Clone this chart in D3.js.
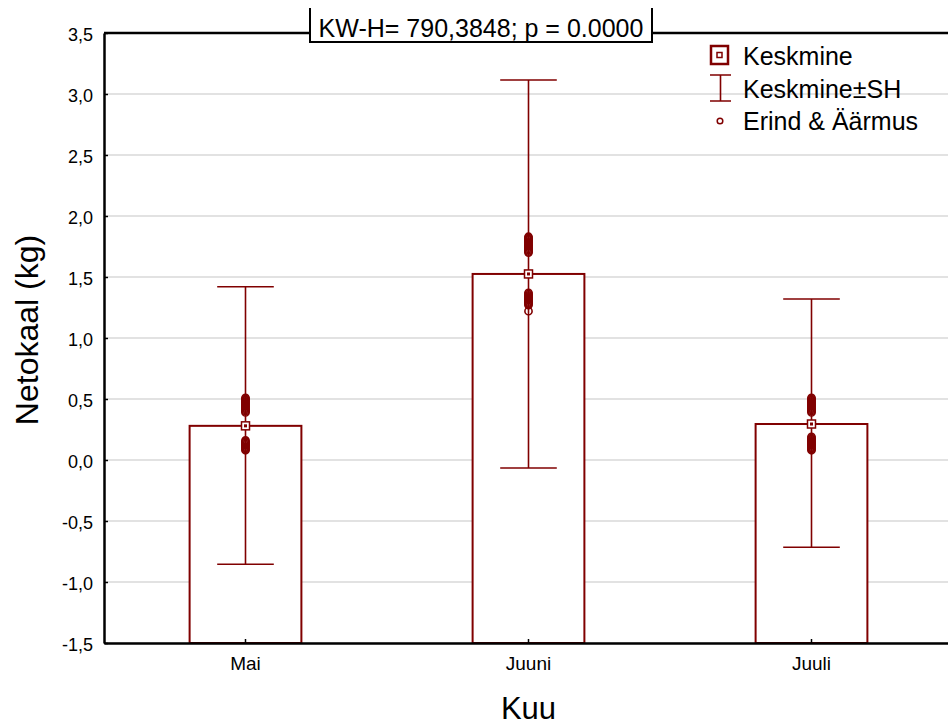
<!DOCTYPE html>
<html>
<head>
<meta charset="utf-8">
<script src="https://cdn.jsdelivr.net/npm/d3@7"></script>
<style>
  body { margin: 0; background: #fff; }
  text { font-family: "Liberation Sans", Arial, sans-serif; fill: #000; }
</style>
</head>
<body>
<div id="chart"></div>
<script>
// data
const months = ["Mai", "Juuni", "Juuli"];
const means = [0.28, 1.525, 0.295];
const upperSH = [1.42, 3.115, 1.32];
const lowerSH = [-0.855, -0.065, -0.715];
const maiOutliers = [0.39, 0.40, 0.41, 0.42, 0.43, 0.44, 0.45, 0.46, 0.47, 0.48, 0.49, 0.50, 0.51,
  0.08, 0.09, 0.10, 0.11, 0.12, 0.13, 0.14, 0.15, 0.16];
const juuniOutliers = [1.70, 1.71, 1.72, 1.73, 1.74, 1.75, 1.76, 1.77, 1.78, 1.79, 1.80, 1.81, 1.82, 1.83,
  1.27, 1.28, 1.29, 1.30, 1.31, 1.32, 1.33, 1.34, 1.35, 1.36, 1.37, 1.22];
const juuliOutliers = [0.39, 0.40, 0.41, 0.42, 0.43, 0.44, 0.45, 0.46, 0.47, 0.48, 0.49, 0.50, 0.51,
  0.08, 0.09, 0.10, 0.11, 0.12, 0.13, 0.14, 0.15, 0.16, 0.17, 0.18, 0.19];
const outliers = [maiOutliers, juuniOutliers, juuliOutliers];
const yTicks = [-1.5, -1.0, -0.5, 0.0, 0.5, 1.0, 1.5, 2.0, 2.5, 3.0, 3.5];
const titleText = "KW-H= 790,3848; p = 0.0000";
const legendItems = ["Keskmine", "Keskmine±SH", "Erind & Äärmus"];

const red = "#800000";
const width = 948;
const height = 727;
const margin = { top: 33, left: 104 };
const plotRight = 953; // frame runs past the right edge of the picture
const plotBottom = 643;

const svg = d3.select("#chart").append("svg")
  .attr("width", width)
  .attr("height", height);

const x = d3.scaleBand().domain(months).range([margin.left, plotRight]).padding(0);
const y = d3.scaleLinear().domain([-1.5, 3.5]).range([plotBottom, margin.top]);

const locale = d3.formatLocale({ decimal: ",", thousands: " ", grouping: [3], currency: ["", ""], minus: "-" });
const fmt = locale.format(".1f");

// gridlines
svg.append("g")
  .selectAll("line")
  .data(yTicks)
  .join("line")
  .attr("x1", margin.left)
  .attr("x2", plotRight)
  .attr("y1", d => y(d))
  .attr("y2", d => y(d))
  .attr("stroke", "#d9d9d9")
  .attr("stroke-width", 1.5);

const data = months.map((m, i) => ({
  month: m, mean: means[i], hi: upperSH[i], lo: lowerSH[i], out: outliers[i]
}));

const barW = x.bandwidth() * 0.395;
const capW = x.bandwidth() * 0.1;
const cx = d => x(d.month) + x.bandwidth() / 2;

// bars
svg.append("g")
  .selectAll("rect")
  .data(data)
  .join("rect")
  .attr("x", d => cx(d) - barW / 2)
  .attr("width", barW)
  .attr("y", d => y(d.mean))
  .attr("height", d => y(-1.5) - y(d.mean))
  .attr("fill", "#fff")
  .attr("stroke", red)
  .attr("stroke-width", 2);

// error bars
const eb = svg.append("g").attr("stroke", red).attr("stroke-width", 1.6);
eb.selectAll(".v").data(data).join("line")
  .attr("x1", cx).attr("x2", cx)
  .attr("y1", d => y(d.hi)).attr("y2", d => y(d.lo));
eb.selectAll(".capHi").data(data).join("line")
  .attr("x1", d => cx(d) - capW).attr("x2", d => cx(d) + capW)
  .attr("y1", d => y(d.hi)).attr("y2", d => y(d.hi));
eb.selectAll(".capLo").data(data).join("line")
  .attr("x1", d => cx(d) - capW).attr("x2", d => cx(d) + capW)
  .attr("y1", d => y(d.lo)).attr("y2", d => y(d.lo));

// outliers & extremes
data.forEach(d => {
  svg.append("g")
    .selectAll("circle")
    .data(d.out)
    .join("circle")
    .attr("cx", cx(d))
    .attr("cy", v => y(v))
    .attr("r", 3.6)
    .attr("fill", "none")
    .attr("stroke", red)
    .attr("stroke-width", 1.6);
});

// mean markers
const mm = svg.append("g");
mm.selectAll("rect.o").data(data).join("rect")
  .attr("x", d => cx(d) - 4).attr("y", d => y(d.mean) - 4)
  .attr("width", 8).attr("height", 8)
  .attr("fill", "#fff").attr("stroke", red).attr("stroke-width", 1.5);
mm.selectAll("rect.i").data(data).join("rect")
  .attr("x", d => cx(d) - 1).attr("y", d => y(d.mean) - 1)
  .attr("width", 2).attr("height", 2)
  .attr("fill", "none").attr("stroke", red).attr("stroke-width", 1);

// axes
const yAxis = d3.axisLeft(y).tickValues(yTicks).tickFormat(fmt).tickSize(-4).tickSizeOuter(0).tickPadding(11);
const yG = svg.append("g").attr("transform", `translate(${margin.left},0)`).call(yAxis);
yG.select(".domain").attr("stroke", "#000").attr("stroke-width", 2.5);
yG.selectAll(".tick line").attr("stroke", "#000").attr("stroke-width", 1.5);
yG.selectAll(".tick text").attr("font-size", 18).attr("dy", "0.4em")
  .style("font-family", "'Liberation Sans', Arial, sans-serif");

const xAxis = d3.axisBottom(x).tickSize(-4).tickSizeOuter(0).tickPadding(14);
const xG = svg.append("g").attr("transform", `translate(0,${plotBottom})`).call(xAxis);
xG.select(".domain").attr("stroke", "#000").attr("stroke-width", 2.5);
xG.selectAll(".tick line").attr("stroke", "#000").attr("stroke-width", 1.5);
xG.selectAll(".tick text").attr("font-size", 19)
  .style("font-family", "'Liberation Sans', Arial, sans-serif");

// top frame line
svg.append("line")
  .attr("x1", margin.left).attr("x2", plotRight)
  .attr("y1", margin.top).attr("y2", margin.top)
  .attr("stroke", "#000").attr("stroke-width", 2.5);

// axis titles
svg.append("text")
  .attr("x", (margin.left + plotRight) / 2)
  .attr("y", 719)
  .attr("text-anchor", "middle")
  .attr("font-size", 31)
  .text("Kuu");
svg.append("text")
  .attr("transform", "translate(38,330) rotate(-90)")
  .attr("text-anchor", "middle")
  .attr("font-size", 32)
  .text("Netokaal (kg)");

// title box
const tb = svg.append("g");
tb.append("rect")
  .attr("x", 310).attr("y", 8).attr("width", 342).attr("height", 34)
  .attr("fill", "#fff");
tb.append("path")
  .attr("d", "M310,8V42H652V8")
  .attr("fill", "none").attr("stroke", "#000").attr("stroke-width", 2);
tb.append("text")
  .attr("x", 481).attr("y", 37)
  .attr("text-anchor", "middle")
  .attr("font-size", 25)
  .text(titleText);

// legend
const lg = svg.append("g");
lg.append("rect").attr("x", 711).attr("y", 46).attr("width", 17).attr("height", 18)
  .attr("fill", "#fff").attr("stroke", red).attr("stroke-width", 2.5);
lg.append("rect").attr("x", 717).attr("y", 52.5).attr("width", 5).attr("height", 5)
  .attr("fill", "none").attr("stroke", red).attr("stroke-width", 1.5);
lg.append("path").attr("d", "M710,75H731M720.5,75V101M710,101H731")
  .attr("fill", "none").attr("stroke", red).attr("stroke-width", 1.6);
lg.append("circle").attr("cx", 720).attr("cy", 121).attr("r", 2.8)
  .attr("fill", "none").attr("stroke", red).attr("stroke-width", 1.5);
lg.selectAll("text").data(legendItems).join("text")
  .attr("x", 743)
  .attr("y", (d, i) => 65 + i * 32.5)
  .attr("font-size", 25)
  .text(d => d);
</script>
</body>
</html>
